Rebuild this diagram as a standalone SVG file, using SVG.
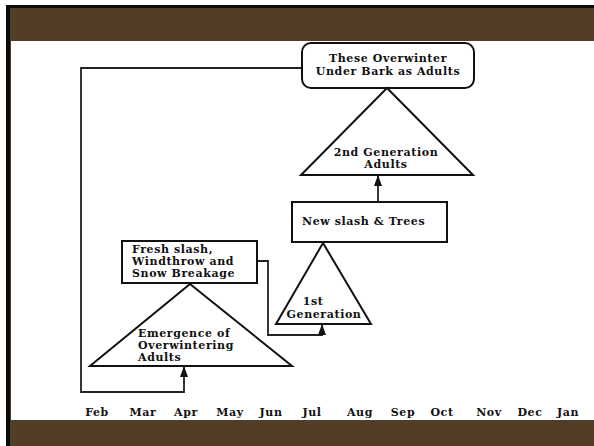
<svg xmlns="http://www.w3.org/2000/svg" width="594" height="446" viewBox="0 0 594 446">
  <style>
    .shape { fill: #ffffff; stroke: #111111; stroke-width: 2; }
    .wire { fill: none; stroke: #222222; stroke-width: 1.8; }
    .lbl { font-family: "DejaVu Serif", "Liberation Serif", serif; font-weight: bold; font-size: 11px; letter-spacing: 0.6px; fill: #111111; }
    .mid { text-anchor: middle; }
  </style>
  <defs>
    <marker id="arrow" markerWidth="11" markerHeight="8" refX="10" refY="4" orient="auto" markerUnits="userSpaceOnUse" viewBox="0 0 11 8">
      <path d="M0,0 L11,4 L0,8 Z" fill="#111111"/>
    </marker>
  </defs>

  <!-- slide frame -->
  <rect x="0" y="0" width="594" height="446" fill="#ffffff"/>
  <rect x="6" y="5" width="588" height="441" fill="#0c0a08"/>
  <rect x="10" y="8" width="584" height="438" fill="#533d27"/>
  <rect x="11" y="41" width="583" height="379" fill="#ffffff"/>

  <!-- connectors -->
  <g id="connectors">
    <polyline class="wire" points="302,68 81,68 81,392 184,392 184,367" marker-end="url(#arrow)"/>
    <polyline class="wire" points="257,261 268,261 268,335 322,335 322,325" marker-end="url(#arrow)"/>
    <line class="wire" x1="378" y1="202" x2="378" y2="176" marker-end="url(#arrow)"/>
  </g>

  <g id="overwinter">
    <rect class="shape" x="302" y="43" width="172" height="45" rx="9"/>
    <text class="lbl mid" x="388" y="62">These Overwinter</text>
    <text class="lbl mid" x="388" y="75">Under Bark as Adults</text>
  </g>

  <g id="gen2">
    <polygon class="shape" points="387,88 301,175 473,175"/>
    <text class="lbl mid" x="386" y="156">2nd Generation</text>
    <text class="lbl mid" x="386" y="168">Adults</text>
  </g>

  <g id="newslash">
    <rect class="shape" x="292" y="202" width="155" height="40"/>
    <text class="lbl" x="302" y="225">New slash &amp; Trees</text>
  </g>

  <g id="gen1">
    <polygon class="shape" points="323,243 276,324 371,324"/>
    <text class="lbl mid" x="313" y="305">1st</text>
    <text class="lbl mid" x="324" y="318">Generation</text>
  </g>

  <g id="freshslash">
    <rect class="shape" x="122" y="241" width="135" height="42"/>
    <text class="lbl" x="132" y="253">Fresh slash,</text>
    <text class="lbl" x="132" y="265">Windthrow and</text>
    <text class="lbl" x="132" y="277">Snow Breakage</text>
  </g>

  <g id="emergence">
    <polygon class="shape" points="190,284 90,366 292,366"/>
    <text class="lbl" x="138" y="337">Emergence of</text>
    <text class="lbl" x="138" y="349">Overwintering</text>
    <text class="lbl" x="138" y="361">Adults</text>
  </g>

  <!-- month axis -->
  <g id="months" class="lbl">
    <text class="mid" x="97" y="416">Feb</text>
    <text class="mid" x="143" y="416">Mar</text>
    <text class="mid" x="186" y="416">Apr</text>
    <text class="mid" x="230" y="416">May</text>
    <text class="mid" x="271" y="416">Jun</text>
    <text class="mid" x="312" y="416">Jul</text>
    <text class="mid" x="360" y="416">Aug</text>
    <text class="mid" x="403" y="416">Sep</text>
    <text class="mid" x="442" y="416">Oct</text>
    <text class="mid" x="489" y="416">Nov</text>
    <text class="mid" x="530" y="416">Dec</text>
    <text class="mid" x="568" y="416">Jan</text>
  </g>
</svg>
